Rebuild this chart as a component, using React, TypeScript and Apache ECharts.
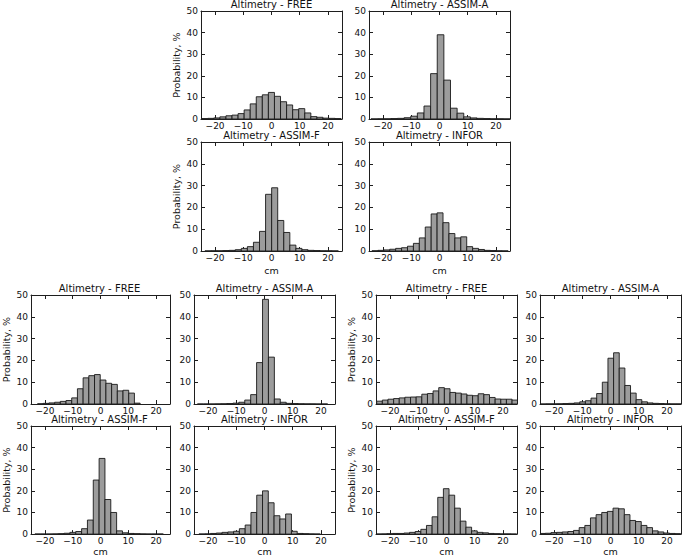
import React, { useEffect, useRef } from 'react';
import * as echarts from 'echarts';

// ---- Data: probability (%) per histogram bin; bins begin at *Start (cm), each *Width cm wide ----
const topFreeStart = -24.75;
const topFreeWidth = 2.15;
const topFree = [0.2, 0.3, 0.5, 1.0, 1.5, 1.8, 2.5, 4.2, 7.0, 10.3, 11.2, 12.3, 10.5, 8.0, 6.5, 4.3, 4.8, 2.8, 1.1, 0.8, 0.4, 0.3, 0.2];

const topAssimAStart = -24.3;
const topAssimAWidth = 2.35;
const topAssimA = [0.05, 0.1, 0.1, 0.2, 0.3, 0.6, 1.3, 2.8, 6, 21, 39, 18, 5, 2.7, 1, 0.5, 0.3, 0.2, 0.1, 0.1, 0.05];

const topAssimFStart = -23.6;
const topAssimFWidth = 2.15;
const topAssimF = [0.05, 0.1, 0.1, 0.2, 0.3, 0.6, 1.2, 2, 4, 9, 26, 29, 14, 8.5, 2.7, 1.2, 0.6, 0.3, 0.2, 0.1, 0.1, 0.05];

const topInforStart = -23.95;
const topInforWidth = 2.1;
const topInfor = [0.1, 0.3, 0.5, 0.8, 1.2, 1.5, 2.2, 3.5, 6, 11, 17, 17.5, 13, 8, 6, 6.5, 2, 1.2, 0.7, 0.3, 0.2, 0.1, 0.05];

const blFreeStart = -22.65;
const blFreeWidth = 2.05;
const blFree = [0.1, 0.3, 0.5, 0.8, 1.2, 1.6, 2.8, 7, 12, 13, 13.5, 11, 9.5, 9, 6, 6.3, 5, 0.4];

const blAssimAStart = -23.8;
const blAssimAWidth = 2.1;
const blAssimA = [0, 0, 0, 0.05, 0.1, 0.2, 0.4, 0.8, 1.8, 4.3, 19, 48, 21.5, 2.3, 0.8, 0.3, 0.2, 0.1, 0.05, 0.05, 0, 0];

const brFreeStart = -24.75;
const brFreeWidth = 2.0;
const brFree = [1.3, 1.8, 2.2, 2.5, 2.8, 3.1, 3.2, 3.3, 4.5, 4.8, 6, 7.5, 7, 5.3, 5, 4.6, 4, 3.8, 4.7, 4.3, 3, 2.3, 2.2, 2.2, 1.8];

const brAssimAStart = -24.9;
const brAssimAWidth = 2.0;
const brAssimA = [0, 0.05, 0.05, 0.1, 0.2, 0.3, 0.5, 1, 1.5, 2.7, 4.8, 10, 21, 23.5, 16.5, 8.5, 5, 2, 1, 0.5, 0.3, 0.2, 0.1, 0.05, 0.05];

const blAssimFStart = -23.6;
const blAssimFWidth = 2.1;
const blAssimF = [0.05, 0.05, 0.05, 0.1, 0.2, 0.4, 0.8, 1.2, 2.5, 6.5, 25, 35, 16, 10, 1.5, 0.6, 0.3, 0.2, 0.1, 0.05, 0.05, 0.05];

const blInforStart = -23.25;
const blInforWidth = 2.05;
const blInfor = [0.05, 0.1, 0.3, 0.5, 0.8, 1.0, 1.3, 2.5, 4.2, 10, 18, 20, 14.5, 8.5, 7, 9.3, 1.3, 0.3, 0.2, 0.1, 0.05];

const brAssimFStart = -25.1;
const brAssimFWidth = 2.0;
const brAssimF = [0.05, 0.1, 0.2, 0.3, 0.3, 0.5, 0.8, 1.2, 2.2, 4, 8, 17, 21, 18, 12, 6, 3.2, 1.5, 0.8, 0.6, 0.3, 0.2, 0.1, 0.1, 0.05];

const brInforStart = -25.1;
const brInforWidth = 2.0;
const brInfor = [0.3, 0.4, 0.7, 0.8, 1.0, 1.2, 1.7, 3, 4, 7.5, 9, 10, 10.5, 12, 11.7, 9, 6.3, 5.8, 4, 3, 1.5, 1, 0.5, 0.3, 0.2];

const xTicks = [-20, -10, 0, 10, 20];
const xMin = -25;
const xMax = 25;
const yMin = 0;
const yMax = 50;
const yStep = 10;

// ---- Layout (pixels) ----
const W = 141;
const FONT = "'DejaVu Sans', 'Liberation Sans', sans-serif";
const TXT = '#111';
const LINE = '#1e1e1e';

type Panel = {
  title: string;
  start: number;
  width: number;
  values: number[];
  left: number;
  top: number;
  h: number;
  yl: boolean;
  xl: boolean;
  cmGap: number;
};

const panels: Panel[] = [
  { title: 'Altimetry - FREE', start: topFreeStart, width: topFreeWidth, values: topFree, left: 201, top: 11, h: 108, yl: true, xl: false, cmGap: 14 },
  { title: 'Altimetry - ASSIM-A', start: topAssimAStart, width: topAssimAWidth, values: topAssimA, left: 369, top: 11, h: 108, yl: false, xl: false, cmGap: 14 },
  { title: 'Altimetry - ASSIM-F', start: topAssimFStart, width: topAssimFWidth, values: topAssimF, left: 201, top: 142, h: 109, yl: true, xl: true, cmGap: 14 },
  { title: 'Altimetry - INFOR', start: topInforStart, width: topInforWidth, values: topInfor, left: 369, top: 142, h: 109, yl: false, xl: true, cmGap: 14 },
  { title: 'Altimetry - FREE', start: blFreeStart, width: blFreeWidth, values: blFree, left: 29, top: 295, h: 109, yl: true, xl: false, cmGap: 11 },
  { title: 'Altimetry - ASSIM-A', start: blAssimAStart, width: blAssimAWidth, values: blAssimA, left: 194, top: 295, h: 109, yl: false, xl: false, cmGap: 11 },
  { title: 'Altimetry - FREE', start: brFreeStart, width: brFreeWidth, values: brFree, left: 376, top: 295, h: 109, yl: true, xl: false, cmGap: 11 },
  { title: 'Altimetry - ASSIM-A', start: brAssimAStart, width: brAssimAWidth, values: brAssimA, left: 540, top: 295, h: 109, yl: false, xl: false, cmGap: 11 },
  { title: 'Altimetry - ASSIM-F', start: blAssimFStart, width: blAssimFWidth, values: blAssimF, left: 29, top: 426, h: 110, yl: true, xl: true, cmGap: 11 },
  { title: 'Altimetry - INFOR', start: blInforStart, width: blInforWidth, values: blInfor, left: 194, top: 426, h: 110, yl: false, xl: true, cmGap: 11 },
  { title: 'Altimetry - ASSIM-F', start: brAssimFStart, width: brAssimFWidth, values: brAssimF, left: 376, top: 426, h: 110, yl: true, xl: true, cmGap: 11 },
  { title: 'Altimetry - INFOR', start: brInforStart, width: brInforWidth, values: brInfor, left: 540, top: 426, h: 110, yl: false, xl: true, cmGap: 11 },
];

const fmtMinus = (v: number) => (v < 0 ? '\u2212' + Math.abs(v) : String(v));

const renderItem = (_params: any, api: any) => {
  const a = api.coord([api.value(0), 0]);
  const b = api.coord([api.value(1), api.value(2)]);
  return {
    type: 'rect',
    shape: { x: a[0], y: b[1], width: b[0] - a[0], height: a[1] - b[1] },
    style: { fill: '#9c9c9c', stroke: '#1a1a1a', lineWidth: 0.9 },
  };
};

function buildOption() {
  const grid: any[] = [];
  const xAxis: any[] = [];
  const yAxis: any[] = [];
  const series: any[] = [];
  const graphic: any[] = [];

  panels.forEach((p, i) => {
    grid.push({ left: p.left, top: p.top, width: W, height: p.h, show: false });

    const lineStyle = { color: LINE, width: 1 };
    const labelStyle = { fontSize: 9, color: TXT, fontFamily: FONT };

    xAxis.push({
      type: 'value', gridIndex: i, min: xMin, max: xMax, position: 'bottom',
      splitLine: { show: false },
      axisLine: { show: true, onZero: false, lineStyle },
      axisTick: { show: true, inside: true, length: 4, customValues: xTicks, lineStyle },
      axisLabel: { show: true, customValues: xTicks, formatter: fmtMinus, margin: 2, ...labelStyle },
      name: p.xl ? 'cm' : '',
      nameLocation: 'middle',
      nameGap: p.cmGap,
      nameTextStyle: { fontSize: 9.5, color: TXT, fontFamily: FONT },
    });
    xAxis.push({
      type: 'value', gridIndex: i, min: xMin, max: xMax, position: 'top',
      splitLine: { show: false },
      axisLine: { show: true, onZero: false, lineStyle },
      axisTick: { show: true, inside: true, length: 4, customValues: xTicks, lineStyle },
      axisLabel: { show: false },
    });
    yAxis.push({
      type: 'value', gridIndex: i, min: yMin, max: yMax, interval: yStep, position: 'left',
      splitLine: { show: false },
      axisLine: { show: true, onZero: false, lineStyle },
      axisTick: { show: true, inside: true, length: 4, lineStyle },
      axisLabel: { show: true, margin: 3, ...labelStyle },
      name: p.yl ? 'Probability, %' : '',
      nameLocation: 'middle',
      nameGap: 20,
      nameRotate: 90,
      nameTextStyle: { fontSize: 9.5, color: TXT, fontFamily: FONT },
    });
    yAxis.push({
      type: 'value', gridIndex: i, min: yMin, max: yMax, interval: yStep, position: 'right',
      splitLine: { show: false },
      axisLine: { show: true, onZero: false, lineStyle },
      axisTick: { show: true, inside: true, length: 4, lineStyle },
      axisLabel: { show: false },
    });

    const bins = p.values.map((v, k) => [p.start + k * p.width, p.start + (k + 1) * p.width, v]);
    series.push({
      type: 'custom',
      xAxisIndex: 2 * i,
      yAxisIndex: 2 * i,
      clip: true,
      renderItem,
      encode: { x: [0, 1], y: 2 },
      data: bins,
      silent: true,
    });

    graphic.push({
      type: 'text',
      x: p.left + W / 2,
      y: p.top - 6.5,
      style: {
        text: p.title,
        fontSize: 10,
        fontFamily: FONT,
        fill: TXT,
        align: 'center',
        verticalAlign: 'middle',
        textAlign: 'center',
        textVerticalAlign: 'middle',
      },
    });
  });

  return { animation: false, backgroundColor: '#ffffff', grid, xAxis, yAxis, series, graphic };
}

export default function App() {
  const ref = useRef<HTMLDivElement>(null);
  useEffect(() => {
    if (!ref.current) return;
    const chart = echarts.init(ref.current, null, { renderer: 'svg' });
    chart.setOption(buildOption() as any);
    return () => chart.dispose();
  }, []);
  return (
    <div
      ref={ref}
      style={{ position: 'absolute', left: 0, top: 0, width: 685, height: 557, background: '#fff' }}
    />
  );
}
